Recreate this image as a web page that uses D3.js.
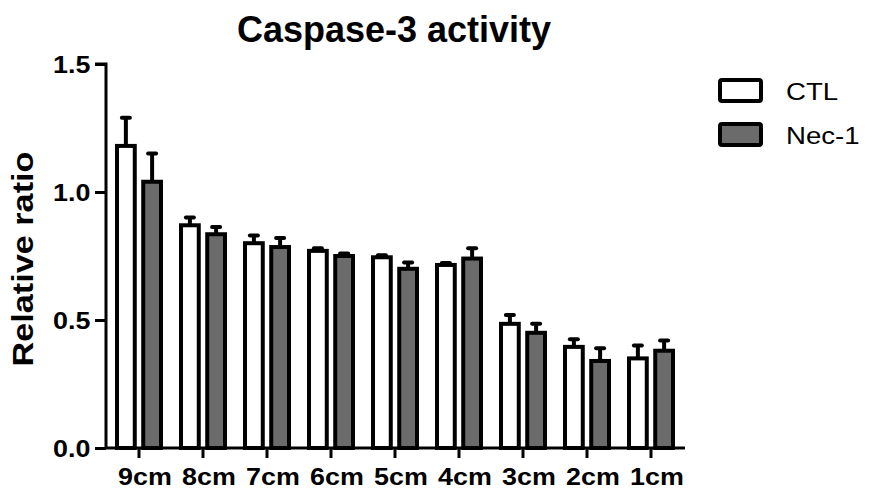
<!DOCTYPE html>
<html>
<head>
<meta charset="utf-8">
<script src="https://cdn.jsdelivr.net/npm/d3@7"></script>
<style>
  body { margin: 0; background: #fff; }
  text { font-family: "Liberation Sans", Arial, sans-serif; }
</style>
</head>
<body>
<script>
var w = 870,
    h = 492;

var categories = ["9cm", "8cm", "7cm", "6cm", "5cm", "4cm", "3cm", "2cm", "1cm"];
var seriesNames = ["CTL", "Nec-1"];
var ctlValues = [1.18, 0.87, 0.80, 0.77, 0.745, 0.715, 0.485, 0.395, 0.35];
var ctlErrors = [0.11, 0.03, 0.03, 0.01, 0.008, 0.008, 0.035, 0.03, 0.05];
var necValues = [1.04, 0.835, 0.785, 0.75, 0.70, 0.74, 0.45, 0.34, 0.38];
var necErrors = [0.11, 0.028, 0.035, 0.01, 0.025, 0.04, 0.035, 0.05, 0.04];
var yTicks = [0, 0.5, 1.0, 1.5];

var fills = ["#ffffff", "#6b6b6b"];

var margin = {left: 106, right: 187, top: 64, bottom: 44};

var svg = d3.select("body").append("svg")
  .attr("width", w)
  .attr("height", h);

var x = d3.scaleBand()
  .domain(categories)
  .range([margin.left + 1, w - margin.right])
  .paddingInner(0)
  .paddingOuter(0);

var sub = d3.scaleBand()
  .domain(seriesNames)
  .range([x.bandwidth() / 2 - 24, x.bandwidth() / 2 + 24])
  .paddingInner(0.17)
  .paddingOuter(0);

var y = d3.scaleLinear()
  .domain([0, 1.5])
  .range([h - margin.bottom, margin.top]);

var rows = [];
categories.forEach(function(c, i) {
  rows.push({cat: c, s: 0, v: ctlValues[i], e: ctlErrors[i]});
  rows.push({cat: c, s: 1, v: necValues[i], e: necErrors[i]});
});

function cx(d) { return x(d.cat) + sub(seriesNames[d.s]) + sub.bandwidth() / 2; }

// error bars (upward only)
var err = svg.append("g");
err.selectAll("line.stem")
  .data(rows)
  .enter()
  .append("line")
  .attr("x1", cx)
  .attr("x2", cx)
  .attr("y1", function(d) { return y(d.v); })
  .attr("y2", function(d) { return y(d.v + d.e); })
  .attr("stroke", "#000")
  .attr("stroke-width", 4);

err.selectAll("line.cap")
  .data(rows)
  .enter()
  .append("line")
  .attr("x1", function(d) { return cx(d) - 4; })
  .attr("x2", function(d) { return cx(d) + 4; })
  .attr("y1", function(d) { return y(d.v + d.e); })
  .attr("y2", function(d) { return y(d.v + d.e); })
  .attr("stroke", "#000")
  .attr("stroke-width", 4)
  .attr("stroke-linecap", "round");

// bars
svg.append("g").selectAll("rect")
  .data(rows)
  .enter()
  .append("rect")
  .attr("x", function(d) { return x(d.cat) + sub(seriesNames[d.s]) + 2; })
  .attr("width", sub.bandwidth() - 4)
  .attr("y", function(d) { return y(d.v); })
  .attr("height", function(d) { return y(0) - y(d.v); })
  .attr("fill", function(d) { return fills[d.s]; })
  .attr("stroke", "#000")
  .attr("stroke-width", 4);

// y axis
var yAxis = svg.append("g")
  .attr("transform", "translate(" + margin.left + ",0)")
  .call(d3.axisLeft(y).tickValues(yTicks).tickFormat(d3.format(".1f")).tickSize(11).tickPadding(3));

// x axis
var xAxis = svg.append("g")
  .attr("transform", "translate(0," + y(0) + ")")
  .call(d3.axisBottom(x).tickSize(10));

[yAxis, xAxis].forEach(function(a) {
  a.select(".domain").attr("stroke", "#000").attr("stroke-width", 3);
  a.selectAll(".tick line").attr("stroke", "#000").attr("stroke-width", 3);
  a.selectAll(".tick text")
    .attr("fill", "#000")
    .style("font-family", "Liberation Sans, Arial, sans-serif")
    .style("font-weight", "bold")
    .style("font-size", "24px");
});
yAxis.select(".domain").attr("d", "M-11," + y(1.5) + "H0V" + y(0));
xAxis.select(".domain").attr("d", "M" + margin.left + ",0H" + (w - margin.right + 2));
yAxis.selectAll(".tick text")
  .attr("x", -14)
  .attr("transform", "scale(1.12,1)")
  .attr("dy", "0.36em");
xAxis.selectAll(".tick text")
  .attr("y", 37)
  .attr("dy", 0)
  .attr("transform", "translate(6,0) scale(1.12,1)");

// title
svg.append("text")
  .attr("x", 394)
  .attr("y", 42)
  .attr("text-anchor", "middle")
  .attr("font-size", "36px")
  .attr("font-weight", "bold")
  .text("Caspase-3 activity");

// y label
svg.append("text")
  .attr("transform", "translate(33,259) rotate(-90) scale(1.18,1)")
  .attr("text-anchor", "middle")
  .attr("font-size", "29px")
  .attr("font-weight", "bold")
  .text("Relative ratio");

// legend
var legend = svg.append("g").selectAll("g")
  .data(seriesNames)
  .enter()
  .append("g")
  .attr("transform", function(d, i) { return "translate(720," + (80 + i * 44) + ")"; });

legend.append("rect")
  .attr("width", 41)
  .attr("height", 21)
  .attr("fill", function(d, i) { return fills[i]; })
  .attr("stroke", "#000")
  .attr("stroke-width", 4)
  .attr("rx", 2);

legend.append("text")
  .attr("transform", "translate(66,20) scale(1.15,1)")
  .attr("font-size", "24px")
  .text(function(d) { return d; });
</script>
</body>
</html>
